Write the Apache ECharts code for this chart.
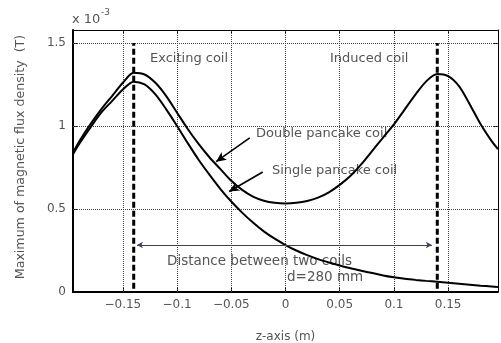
<!DOCTYPE html>
<html><head><meta charset="utf-8">
<script src="https://cdn.jsdelivr.net/npm/echarts@6/dist/echarts.min.js"></script>
<style>html,body{margin:0;padding:0;background:#fff}#c{width:501px;height:343px}</style>
</head><body><div id="c"></div>
<script>
// ---- data ----
const zValues = [-0.196,-0.19,-0.18,-0.17,-0.16,-0.15,-0.14,-0.13,-0.12,-0.11,-0.10,-0.09,-0.08,-0.07,-0.06,-0.05,-0.04,-0.03,-0.02,-0.01,0,
  0.01,0.02,0.03,0.04,0.05,0.06,0.07,0.08,0.09,0.10,0.11,0.12,0.13,0.14,0.15,0.16,0.17,0.18,0.19,0.196];
const doubleCoil = [0.84,0.91,1.01,1.10,1.18,1.26,1.32,1.31,1.26,1.18,1.08,0.98,0.89,0.81,0.74,0.67,0.615,0.575,0.55,0.537,0.533,
  0.537,0.548,0.568,0.6,0.645,0.70,0.77,0.85,0.93,1.01,1.10,1.19,1.27,1.313,1.30,1.24,1.13,1.01,0.91,0.86];
const singleCoil = [0.83,0.895,0.99,1.08,1.15,1.22,1.267,1.25,1.19,1.10,1.00,0.895,0.795,0.705,0.62,0.545,0.478,0.418,0.365,0.321,0.283,
  0.25,0.222,0.198,0.178,0.16,0.143,0.128,0.114,0.10,0.089,0.08,0.073,0.067,0.062,0.056,0.05,0.044,0.038,0.033,0.03];
const xTicks = [-0.15,-0.1,-0.05,0,0.05,0.1,0.15];
const xTickLabels = ['\u22120.15','\u22120.1','\u22120.05','0','0.05','0.1','0.15'];
const yTicks = [0,0.5,1,1.5];
const yTickLabels = ['0','0.5','1','1.5'];
const coilPositions = [-0.14, 0.14];
const coilLineRange = [0.02, 1.5];
const distanceLevel = 0.283;
const xRange = [-0.196, 0.196];
const yRange = [0, 1.578];

// ---- chart ----
const chart = echarts.init(document.getElementById('c'), null, {renderer:'canvas'});
const FONT = 'DejaVu Sans';
const TXT = '#555';
const lbl = (ticks, labels) => v => { const i = ticks.findIndex(t => Math.abs(t - v) < 1e-9); return i < 0 ? '' : labels[i]; };

const gridLines = xTicks.map(v => ({xAxis: v})).concat(yTicks.filter(v => v > 0).map(v => ({yAxis: v})));

const series = [
  {
    name: 'Double pancake coil', type: 'line', smooth: 0.3, showSymbol: false, silent: true,
    data: zValues.map((z, i) => [z, doubleCoil[i]]),
    lineStyle: {color: '#000', width: 2}, z: 5,
    markLine: {silent: true, symbol: 'none', label: {show: false},
      lineStyle: {color: '#444', type: [1, 1], width: 1}, data: gridLines, z: 1}
  },
  {
    name: 'Single pancake coil', type: 'line', smooth: 0.3, showSymbol: false, silent: true,
    data: zValues.map((z, i) => [z, singleCoil[i]]),
    lineStyle: {color: '#000', width: 2}, z: 5,
    markLine: {silent: true, label: {show: false}, z: 6,
      data: [
        [{coord: [-0.033, 0.928], symbol: 'none'}, {coord: [-0.064, 0.785], symbol: 'arrow', symbolSize: [7, 10]}],
        [{coord: [-0.021, 0.723], symbol: 'none'}, {coord: [-0.052, 0.605], symbol: 'arrow', symbolSize: [7, 10]}],
        [{coord: [-0.137, distanceLevel], symbol: 'arrow', symbolSize: [5, 6], lineStyle: {color: '#3a3f66', width: 1, type: 'solid'}},
         {coord: [0.135, distanceLevel], symbol: 'arrow', symbolSize: [5, 6]}]
      ],
      lineStyle: {color: '#000', width: 1.6, type: 'solid'}
    }
  }
].concat(coilPositions.map(p => ({
  type: 'line', silent: true, showSymbol: false,
  data: [[p, coilLineRange[0]], [p, coilLineRange[1]]],
  lineStyle: {color: '#000', width: 3, type: [6, 3]}, z: 4
})));

const option = {
  animation: false,
  backgroundColor: '#fff',
  grid: {left: 73, right: 3, top: 30, bottom: 51, containLabel: false, outerBoundsMode: 'none'},
  xAxis: [
    {type: 'value', min: xRange[0], max: xRange[1], position: 'bottom',
      axisLine: {show: true, onZero: false, lineStyle: {color: '#000', width: 2}},
      axisTick: {show: true, inside: true, length: 4, customValues: xTicks, lineStyle: {color: '#000'}},
      axisLabel: {customValues: xTicks, formatter: lbl(xTicks, xTickLabels), color: TXT, fontFamily: FONT, fontSize: 12, margin: 7},
      splitLine: {show: false},
      name: 'z-axis (m)', nameLocation: 'middle', nameGap: 39,
      nameTextStyle: {color: TXT, fontFamily: FONT, fontSize: 12}},
    {type: 'value', min: xRange[0], max: xRange[1], position: 'top',
      axisLine: {show: true, onZero: false, lineStyle: {color: '#000', width: 1}},
      axisTick: {show: true, inside: true, length: 4, customValues: xTicks, lineStyle: {color: '#000'}},
      axisLabel: {show: false}, splitLine: {show: false}}
  ],
  yAxis: [
    {type: 'value', min: yRange[0], max: yRange[1], position: 'left',
      axisLine: {show: true, onZero: false, lineStyle: {color: '#000', width: 2}},
      axisTick: {show: true, inside: true, length: 4, customValues: yTicks, lineStyle: {color: '#000'}},
      axisLabel: {customValues: yTicks, formatter: lbl(yTicks, yTickLabels), color: TXT, fontFamily: FONT, fontSize: 12, margin: 7},
      splitLine: {show: false}},
    {type: 'value', min: yRange[0], max: yRange[1], position: 'right',
      axisLine: {show: true, onZero: false, lineStyle: {color: '#000', width: 1}},
      axisTick: {show: true, inside: true, length: 4, customValues: yTicks, lineStyle: {color: '#000'}},
      axisLabel: {show: false}, splitLine: {show: false}}
  ],
  graphic: [
    {type: 'text', x: 21, y: 157, rotation: Math.PI / 2,
      style: {text: 'Maximum of magnetic flux density  (T)', fill: TXT, font: '12.6px "DejaVu Sans"', align: 'center', verticalAlign: 'middle'}},
    {type: 'text', x: 72, y: 13, style: {text: 'x 10', fill: TXT, font: '13px "DejaVu Sans"'}},
    {type: 'text', x: 101, y: 8, style: {text: '-3', fill: TXT, font: '9px "DejaVu Sans"'}},
    {type: 'text', x: 150, y: 52, style: {text: 'Exciting coil', fill: TXT, font: '13px "DejaVu Sans"'}},
    {type: 'text', x: 330, y: 52, style: {text: 'Induced coil', fill: TXT, font: '13px "DejaVu Sans"'}},
    {type: 'text', x: 256, y: 127, style: {text: 'Double pancake coil', fill: TXT, font: '13px "DejaVu Sans"'}},
    {type: 'text', x: 272, y: 164, style: {text: 'Single pancake coil', fill: TXT, font: '13px "DejaVu Sans"'}},
    {type: 'text', x: 167, y: 254, style: {text: 'Distance between two coils', fill: TXT, font: '13.5px "DejaVu Sans"'}},
    {type: 'text', x: 287, y: 270, style: {text: 'd=280 mm', fill: TXT, font: '13.5px "DejaVu Sans"'}}
  ],
  series: series
};
chart.setOption(option);
</script></body></html>
